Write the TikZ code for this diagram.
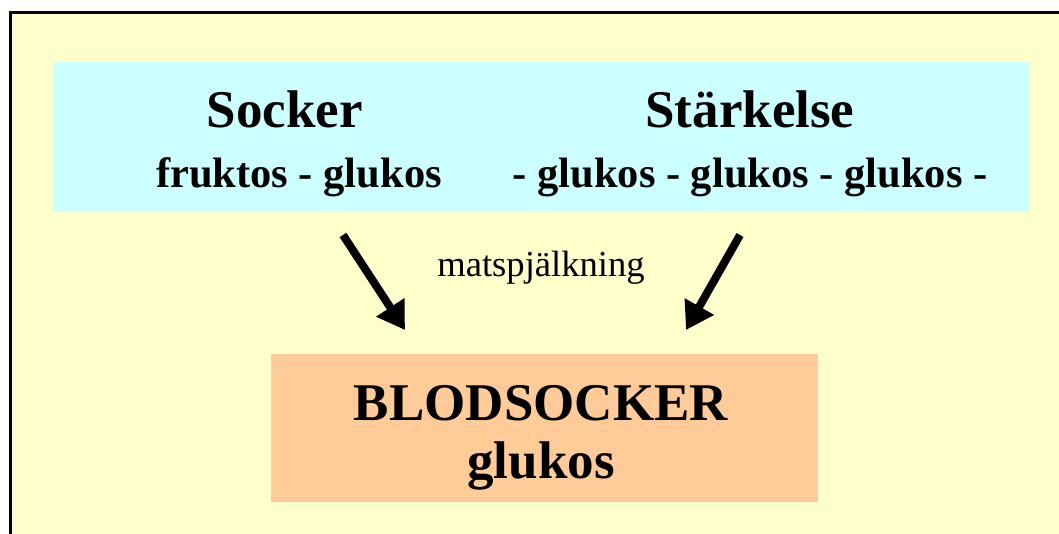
\documentclass[tikz,border=0pt]{standalone}
\usepackage{fontspec}
\setmainfont{Liberation Serif}
\usetikzlibrary{arrows.meta}
\definecolor{bgyellow}{HTML}{FFFFCC}
\definecolor{boxcyan}{HTML}{CCFFFF}
\definecolor{boxorange}{HTML}{FFCC99}
\begin{document}
\begin{tikzpicture}[x=1pt,y=-1pt,
  big/.style={font=\fontsize{53}{57}\selectfont\bfseries, inner sep=0pt, anchor=base},
  sub/.style={font=\fontsize{42.5}{46}\selectfont\bfseries, inner sep=0pt, anchor=base},
  lbl/.style={font=\fontsize{36.6}{40}\selectfont, inner sep=0pt, anchor=base},
  arr/.style={line width=8pt, -{Triangle[length=27pt,width=32pt]}}]
\useasboundingbox (0,0) rectangle (1059,534);
\begin{scope}
\clip (0,0) rectangle (1059,534);
\draw[line width=3pt, fill=bgyellow] (10.5,13) rectangle (1080,560);
\end{scope}
\fill[boxcyan] (53,62) rectangle (1030,212);
\fill[boxorange] (271,354) rectangle (818,502);
\node[big] (socker) at (285,128) {Socker};
\node[big] (starkelse) at (750,128) {Stärkelse};
\node[sub] (fg) at (299,188) {fruktos - glukos};
\node[sub] (ggg) at (750,188) {- glukos - glukos - glukos -};
\node[lbl] (msp) at (541,277) {matspjälkning};
\node[big] (blod) at (541,420) {BLODSOCKER};
\node[big] (glu) at (541,478) {glukos};
\coordinate (a1s) at (343,235);
\coordinate (a1e) at (405,330);
\coordinate (a2s) at (740,235);
\coordinate (a2e) at (686,330);
\draw[arr] (a1s) -- (a1e);
\draw[arr] (a2s) -- (a2e);
\end{tikzpicture}
\end{document}
